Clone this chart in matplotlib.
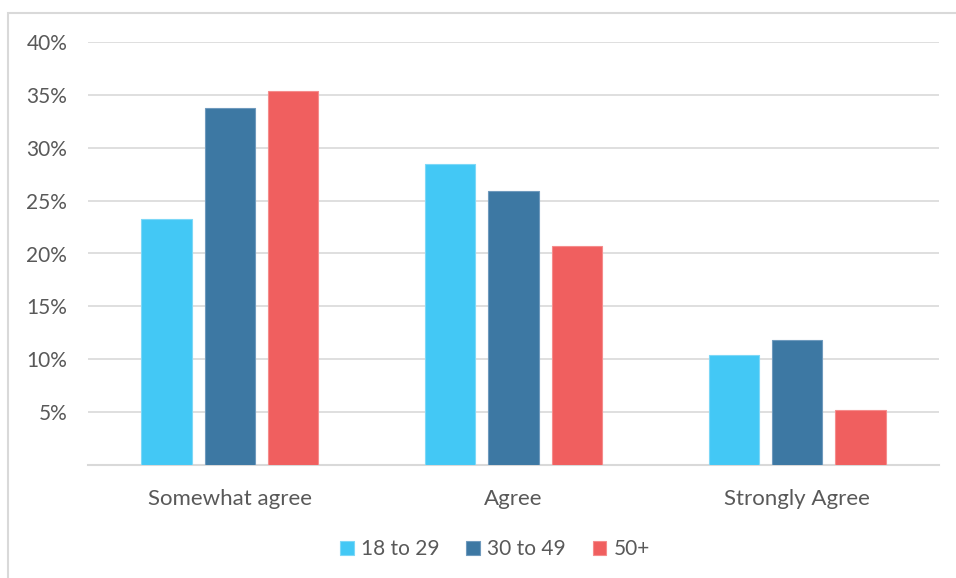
import matplotlib.pyplot as plt
from matplotlib.patches import Rectangle
from matplotlib.ticker import FixedLocator, FuncFormatter
import numpy as np

categories = ['Somewhat agree', 'Agree', 'Strongly Agree']
age_groups = ['18 to 29', '30 to 49', '50+']
share_18_29 = [23.3, 28.5, 10.4]
share_30_49 = [33.8, 25.9, 11.8]
share_50_plus = [35.4, 20.7, 5.2]
y_ticks = [5, 10, 15, 20, 25, 30, 35, 40]

colors = ['#43C8F5', '#3D78A3', '#F05F5F']
edges = ['#7dd8f7', '#6f9abd', '#f58c8c']
text_color = '#595959'
grid_color = '#d9d9d9'

plt.rcParams['font.family'] = ['Lato', 'DejaVu Sans']

fig = plt.figure(figsize=(9.56, 5.78), dpi=100)
fig.patch.set_facecolor('white')

# light frame around the chart area, running off the right and bottom edges
fig.patches.append(Rectangle((8 / 956, -0.1), 1.2, 1 - 13 / 578 + 0.1,
                             transform=fig.transFigure, fill=False,
                             edgecolor='#d9d9d9', linewidth=1.5))

ax = fig.add_axes([88 / 956, 1 - 465 / 578, 851 / 956, (465 - 42) / 578])

x = np.arange(len(categories))
width = 0.177
step = 0.223
series = [share_18_29, share_30_49, share_50_plus]
for i, (vals, label) in enumerate(zip(series, age_groups)):
    ax.bar(x + (i - 1) * step, vals, width, color=colors[i], edgecolor=edges[i],
           linewidth=0.8, label=label, zorder=3)

ax.set_xlim(-0.5, 2.5)
ax.set_ylim(0, 40)
ax.yaxis.set_major_locator(FixedLocator(y_ticks))
ax.yaxis.set_major_formatter(FuncFormatter(lambda v, _: f'{v:.0f}%'))
ax.grid(axis='y', color=grid_color, linewidth=1.2, zorder=0)
ax.set_xticks(x)
ax.set_xticklabels(categories)

for side in ['top', 'right', 'left']:
    ax.spines[side].set_visible(False)
ax.spines['bottom'].set_color(grid_color)
ax.spines['bottom'].set_linewidth(1.5)
ax.tick_params(axis='y', length=0, colors=text_color, labelsize=15, pad=15)
ax.tick_params(axis='x', length=0, colors=text_color, labelsize=16, pad=17)

fig.legend(loc='center', bbox_to_anchor=(495 / 956, 1 - 549 / 578), ncol=3,
           frameon=False, fontsize=15, labelcolor=text_color,
           handlelength=0.65, handleheight=0.65, handletextpad=0.35, columnspacing=1.3)

fig.savefig('out.png', dpi=100, facecolor='white')
